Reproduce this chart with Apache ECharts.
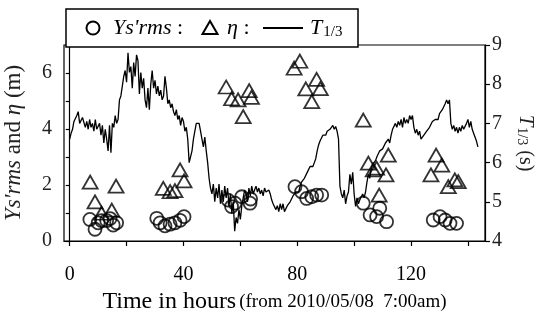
<!DOCTYPE html>
<html>
<head>
<meta charset="utf-8">
<script src="https://cdn.jsdelivr.net/npm/echarts@6/dist/echarts.min.js"></script>
<style>
  html, body { margin: 0; padding: 0; background: #fff; }
  #main { width: 540px; height: 315px; }
</style>
</head>
<body>
<div id="main"></div>
<script>
// Ys'rms (circles, left axis, m)
var circleHours = [7.1, 8.9, 10.0, 11.2, 13.0, 14.2, 15.3, 16.5,
  30.6, 31.8, 33.5, 35.3, 37.0, 38.8, 40.2,
  55.7, 56.9, 58.1, 60.5, 63.4, 63.6,
  79.2, 81.5, 83.3, 85.1, 86.8, 88.6,
  103.2, 105.6, 107.9, 109.0, 111.4,
  127.8, 130.2, 132.0, 133.7, 136.0];
var circleVals = [0.77, 0.42, 0.65, 0.73, 0.73, 0.80, 0.57, 0.65,
  0.81, 0.65, 0.54, 0.60, 0.65, 0.74, 0.87,
  1.46, 1.23, 1.35, 1.58, 1.35, 1.50,
  1.94, 1.76, 1.52, 1.58, 1.64, 1.64,
  1.35, 0.93, 0.87, 1.17, 0.69,
  0.75, 0.87, 0.75, 0.63, 0.63];

// eta (triangles, left axis, m)
var triHours = [7.2, 8.9, 11.2, 14.8, 16.3,
  32.9, 35.3, 37.0, 38.8, 40.2,
  55.0, 56.9, 59.2, 61.0, 63.1, 63.9,
  78.9, 80.9, 83.0, 85.1, 86.8, 88.1,
  103.2, 105.0, 106.7, 107.9, 108.8, 111.2, 112.0,
  127.0, 128.8, 130.8, 133.1, 135.4, 136.6];
var triVals = [2.10, 1.40, 0.99, 1.10, 1.96,
  1.88, 1.76, 1.80, 2.54, 2.15,
  5.50, 5.08, 5.04, 4.44, 5.37, 5.13,
  6.17, 6.42, 5.43, 4.98, 5.77, 5.44,
  4.32, 2.78, 2.54, 2.60, 1.64, 2.36, 3.07,
  2.36, 3.07, 2.71, 1.94, 2.18, 2.12];

// T1/3 (line, right axis, s), every half hour from hour 0
var tStep = 0.5;
var tVals = [
  6.6, 6.75, 6.85, 7.05, 7.0, 7.2, 7.3, 7.0, 6.95, 7.15, 7.1, 6.9, 7.05, 6.85, 7.1, 6.9, 7.0, 6.8, 7.1, 6.85,
  6.8, 7.0, 6.7, 6.95, 6.5, 6.85, 6.6, 6.3, 6.95, 6.25, 7.0, 6.9, 7.2, 7.0, 7.1, 7.6, 7.7, 7.95, 8.2, 8.35,
  8.05, 8.8, 8.3, 8.45, 7.9, 8.55, 8.2, 8.75, 8.6, 7.75, 8.3, 7.9, 8.15, 7.6, 7.4, 7.9, 7.35, 8.0, 8.35, 7.9,
  8.1, 7.75, 7.95, 7.7, 7.85, 7.6, 7.7, 8.2, 7.9, 7.5, 7.6, 7.4, 7.5, 7.3, 7.2, 7.35, 7.1, 7.2, 6.95, 7.15,
  7.05, 6.8, 6.9, 6.6, 6.0, 5.95, 6.3, 6.6, 6.8, 7.0, 6.95, 7.0, 6.8, 6.6, 6.4, 6.65, 6.3, 6.0, 5.6, 5.35,
  5.2, 5.45, 5.0, 5.35, 5.1, 5.45, 4.95, 5.3, 5.0, 5.4, 5.1, 5.35, 4.9, 5.2, 4.7, 5.0, 4.25, 4.6, 4.45, 4.8,
  4.55, 4.9, 5.1, 5.3, 5.2, 5.0, 5.35, 5.15, 5.4, 5.2, 5.3, 5.4, 5.25, 5.35, 5.2, 5.3, 5.15, 5.35, 5.25, 5.3,
  5.3, 5.2, 5.05, 4.95, 5.0, 4.8, 4.9, 4.75, 4.95, 4.8, 4.95, 4.75, 4.8, 4.9, 4.95, 5.0, 5.05, 5.15, 5.1, 5.25,
  5.3, 5.25, 5.4, 5.5, 5.45, 5.6, 5.6, 5.75, 5.7, 5.9, 5.95, 5.9, 6.0, 6.1, 6.3, 6.45, 6.55, 6.6, 6.7, 6.75,
  6.7, 6.8, 6.75, 6.85, 6.9, 6.95, 6.85, 6.92, 6.8, 6.6, 5.4, 5.2, 5.1, 5.3, 4.95, 5.15, 5.25, 5.7, 5.45, 5.75,
  5.2, 4.88, 5.1, 4.95, 5.05, 5.0, 5.2, 5.1, 5.25, 5.5, 5.7, 5.6, 5.85, 5.95, 5.9, 6.05, 6.15, 6.1, 6.3, 6.25,
  6.35, 6.4, 6.5, 6.45, 6.6, 6.5, 6.7, 6.85, 6.8, 7.0, 6.9, 7.05, 6.95, 7.1, 6.9, 7.15, 7.0, 7.1, 7.0, 7.2,
  7.1, 7.2, 6.9, 6.75, 6.85, 6.7, 6.8, 6.6, 6.55, 6.7, 6.65, 6.8, 6.75, 6.9, 6.95, 7.05, 7.0, 7.1, 7.15, 7.1,
  7.25, 7.2, 7.35, 7.3, 7.5, 7.6, 7.5, 7.6, 7.0, 6.85, 6.95, 6.8, 6.9, 6.75, 6.9, 6.8, 6.95, 6.85, 6.9, 7.0,
  7.1, 6.9, 7.05, 6.85, 6.75, 6.8, 6.55, 6.4
];

var xLabelTicks = [0, 40, 80, 120];
var xTicks = [0, 20, 40, 60, 80, 100, 120, 140];
var leftLabelTicks = [0, 2, 4, 6];
var leftTicks = [0, 1, 2, 3, 4, 5, 6, 7];

var font = 'Liberation Serif';
var circleData = circleHours.map(function (h, i) { return [h, circleVals[i]]; });
var triData = triHours.map(function (h, i) { return [h, triVals[i]]; });
var lineData = tVals.map(function (v, i) { return [i * tStep, v]; });

var legendRich = {
  i: { fontFamily: font, fontStyle: 'italic', fontSize: 22, fill: '#000' },
  n: { fontFamily: font, fontSize: 22, fill: '#000' },
  s: { fontFamily: font, fontSize: 15, fill: '#000', verticalAlign: 'bottom', padding: [8, 0, 0, 1] }
};
var legendY = 28;

var chart = echarts.init(document.getElementById('main'), null, { renderer: 'canvas' });
var option = {
  animation: false,
  backgroundColor: '#fff',
  textStyle: { fontFamily: font, color: '#000' },
  grid: {
    left: 64, right: 55, top: 45, bottom: 74,
    outerBoundsMode: 'none',
    show: true, borderColor: '#000', borderWidth: 1.2, backgroundColor: 'transparent'
  },
  // legend box drawn by hand so the marker spacing can follow the original
  graphic: [
    { type: 'rect', z: 100, shape: { x: 66, y: 9, width: 292, height: 38 },
      style: { fill: '#fff', stroke: '#000', lineWidth: 1.5 } },
    { type: 'circle', z: 101, shape: { cx: 93, cy: legendY, r: 6.5 },
      style: { fill: 'none', stroke: '#000', lineWidth: 2 } },
    { type: 'text', z: 101, x: 113, y: legendY,
      style: { text: "{i|Ys'rms}{n|\u00a0:}", rich: legendRich, verticalAlign: 'middle' } },
    { type: 'polygon', z: 101, shape: { points: [[210, legendY - 7], [217.5, legendY + 6], [202.5, legendY + 6]] },
      style: { fill: 'none', stroke: '#000', lineWidth: 2 } },
    { type: 'text', z: 101, x: 227, y: legendY,
      style: { text: '{i|η}{n|\u00a0:}', rich: legendRich, verticalAlign: 'middle' } },
    { type: 'line', z: 101, shape: { x1: 263, y1: legendY, x2: 303, y2: legendY },
      style: { stroke: '#000', lineWidth: 2 } },
    { type: 'text', z: 101, x: 310, y: legendY,
      style: { text: '{i|T}{s|1/3}', rich: legendRich, verticalAlign: 'middle' } }
  ],
  xAxis: {
    type: 'value',
    min: -2, max: 146,
    offset: 4,
    splitLine: { show: false },
    axisLine: { show: true, lineStyle: { color: '#000', width: 1.2 } },
    axisTick: { show: true, length: 5, customValues: xTicks, lineStyle: { color: '#000', width: 1.2 } },
    axisLabel: { customValues: xLabelTicks, fontFamily: font, fontSize: 20, color: '#000', margin: 20 },
    name: '{a|Time in hours} {b|(from 2010/05/08  7:00am)}',
    nameLocation: 'middle',
    nameGap: 45,
    nameTextStyle: {
      rich: {
        a: { fontFamily: font, fontSize: 24, color: '#000' },
        b: { fontFamily: font, fontSize: 19, color: '#000' }
      }
    }
  },
  yAxis: [
    {
      type: 'value',
      position: 'left',
      min: 0, max: 7,
      offset: 3,
      splitLine: { show: false },
      axisLine: { show: true, lineStyle: { color: '#000', width: 1.2 } },
      axisTick: { show: true, length: 4, customValues: leftTicks, lineStyle: { color: '#000', width: 1.2 } },
      axisLabel: { customValues: leftLabelTicks, fontFamily: font, fontSize: 20, color: '#222', margin: 9 },
      name: "{i|Ys'rms} and {i|η} (m)",
      nameLocation: 'middle',
      nameRotate: 90,
      nameGap: 36,
      nameTextStyle: {
        fontFamily: font, fontSize: 23, color: '#222',
        rich: {
          i: { fontFamily: font, fontStyle: 'italic', fontSize: 23, color: '#222' }
        }
      }
    },
    {
      type: 'value',
      position: 'right',
      min: 4, max: 9, interval: 1,
      splitLine: { show: false },
      axisLine: { show: true, lineStyle: { color: '#000', width: 1.2 } },
      axisTick: { show: true, length: 5, lineStyle: { color: '#000', width: 1.2 } },
      axisLabel: { fontFamily: font, fontSize: 20, color: '#222', margin: 7 },
      name: '{i|T}{s|1/3} (s)',
      nameLocation: 'middle',
      nameRotate: -90,
      nameGap: 30,
      nameTextStyle: {
        fontFamily: font, fontSize: 20, color: '#222',
        rich: {
          i: { fontFamily: font, fontStyle: 'italic', fontSize: 21, color: '#222' },
          s: { fontFamily: font, fontSize: 14, color: '#222', verticalAlign: 'bottom', padding: [7, 0, 0, 1] }
        }
      }
    }
  ],
  series: [
    {
      name: "Ys'rms",
      type: 'scatter',
      yAxisIndex: 0,
      symbol: 'circle',
      symbolSize: 13,
      itemStyle: { color: 'transparent', borderColor: '#000', borderWidth: 1.8 },
      data: circleData,
      z: 3
    },
    {
      name: 'η',
      type: 'scatter',
      yAxisIndex: 0,
      symbol: 'triangle',
      symbolSize: [15, 13],
      itemStyle: { color: 'transparent', borderColor: '#000', borderWidth: 1.8 },
      data: triData,
      z: 3
    },
    {
      name: 'T1/3',
      type: 'line',
      yAxisIndex: 1,
      symbol: 'none',
      lineStyle: { color: '#000', width: 1.3 },
      data: lineData,
      z: 2
    }
  ]
};
chart.setOption(option);
</script>
</body>
</html>
